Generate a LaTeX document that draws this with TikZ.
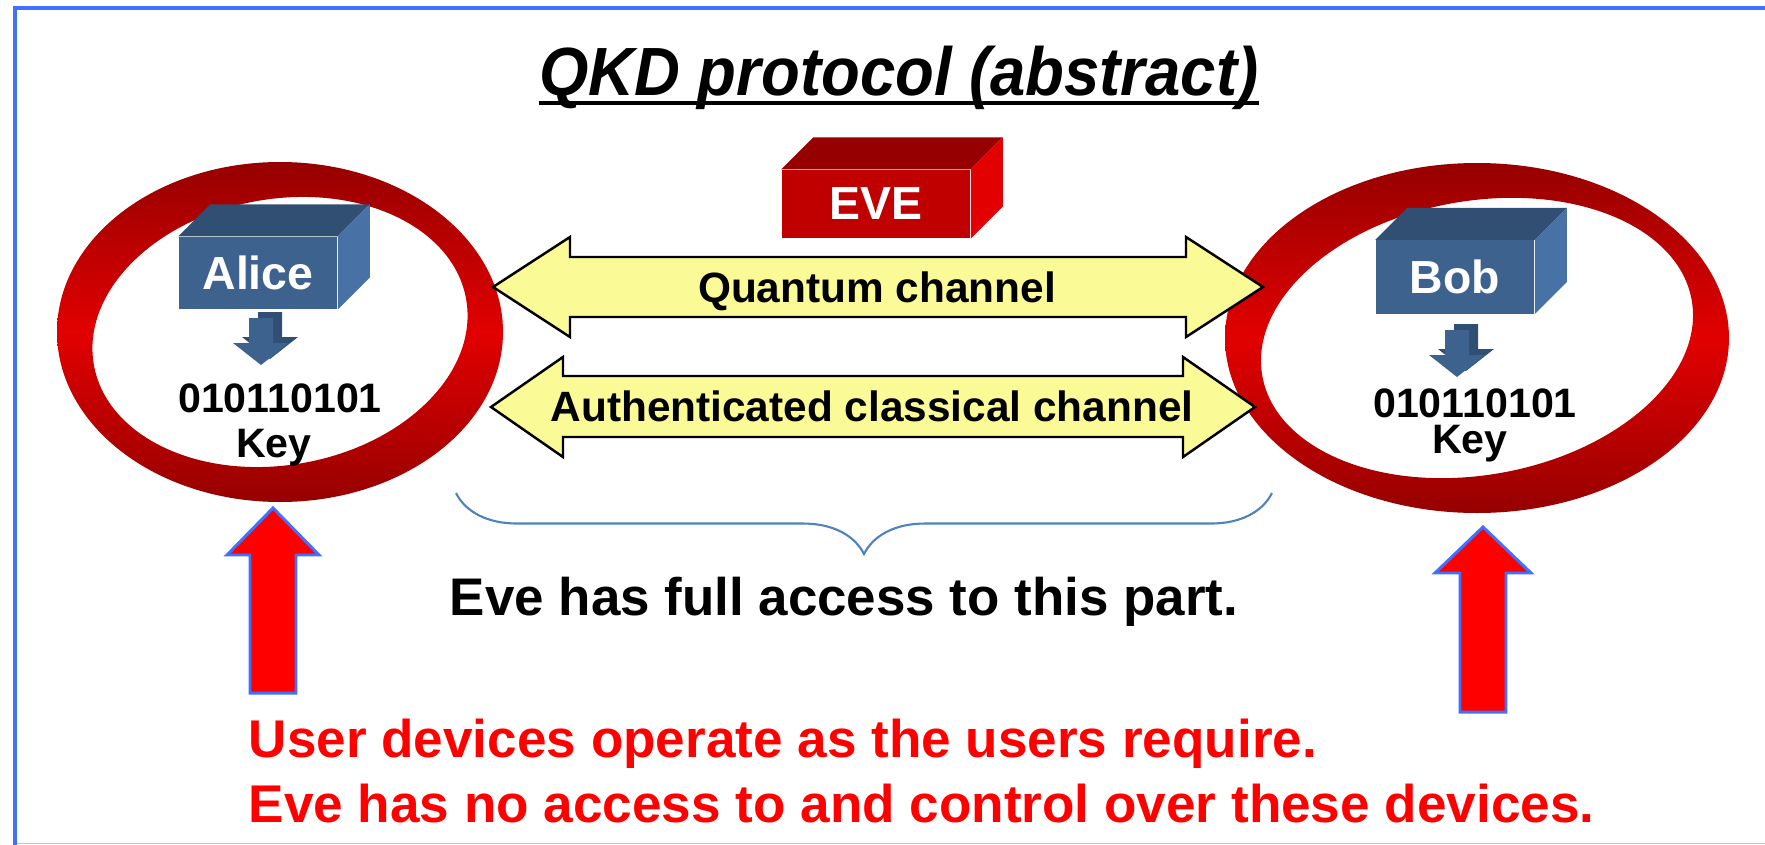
\documentclass[tikz,border=0pt]{standalone}
\usepackage{fontspec}
\setmainfont{Liberation Sans}
\newfontfamily\titlefont[FakeStretch=0.93]{Liberation Sans}
\usetikzlibrary{decorations.pathreplacing,positioning}

\definecolor{frameblue}{RGB}{64,112,255}
\definecolor{framelight}{RGB}{170,200,255}
\definecolor{boxfront}{RGB}{62,98,142}
\definecolor{boxtop}{RGB}{49,78,115}
\definecolor{boxside}{RGB}{72,114,166}
\definecolor{evefront}{RGB}{192,0,0}
\definecolor{evetop}{RGB}{150,0,0}
\definecolor{eveside}{RGB}{226,0,0}
\definecolor{ringdark}{RGB}{150,0,0}
\definecolor{ringlight}{RGB}{226,0,0}
\definecolor{chanfill}{RGB}{250,250,150}
\definecolor{bracecol}{RGB}{79,129,189}
\definecolor{warnred}{RGB}{255,0,0}

\tikzset{
  titletext/.style={anchor=base, inner sep=0pt, font=\titlefont\fontsize{19.4}{22}\selectfont\bfseries\itshape},
  devbox/.style={rectangle, inner sep=0pt, text=white, font=\fontsize{13.2}{15}\selectfont\bfseries},
  bits/.style={anchor=base, inner sep=0pt, font=\fontsize{11.7}{14}\selectfont\bfseries},
  chanarrow/.style={draw=black, fill=chanfill, line width=0.7pt},
  chanlabel/.style={anchor=base, inner sep=0pt, font=\fontsize{12.05}{14}\selectfont\bfseries},
  ring/.style={even odd rule, top color=ringdark, bottom color=ringdark, middle color=ringlight},
  evebrace/.style={draw=bracecol, line width=0.6pt, decorate, decoration={brace, mirror, amplitude=0.61cm}},
  note/.style={anchor=base, inner sep=0pt, font=\fontsize{15.05}{18}\selectfont\bfseries},
  warn/.style={anchor=base west, inner sep=0pt, text=warnred, font=\fontsize{15.1}{18}\selectfont\bfseries},
  userarrow/.style={fill=warnred, draw=frameblue, line width=0.85pt}
}

% top and side faces of a box node
\newcommand{\cuboid}[3]{%
  \fill[#2] (#1.north west) -- ++(32,-32) -- ([shift={(32,-32)}]#1.north east) -- (#1.north east) -- cycle;
  \fill[#3] (#1.north east) -- ++(32,-32) -- ([shift={(32,-32)}]#1.south east) -- (#1.south east) -- cycle;}

% small block arrow, #1 = top centre of the shaft
\newcommand{\keyarrow}[1]{%
  \begin{scope}[shift={#1}]
    \fill[boxtop] (-3,-6) -- (21,-6) -- (21,19) -- (37,19) -- (9,41) -- (-19,19) -- (-3,19) -- cycle;
    \fill[boxfront] (-12,0) -- (12,0) -- (12,25) -- (28,25) -- (0,47) -- (-28,25) -- (-12,25) -- cycle;
  \end{scope}}

\begin{document}
\begin{tikzpicture}[x=0.01cm, y=-0.01cm]
  \useasboundingbox (0,0) rectangle (1765,845);
  \draw[framelight, line width=0.5pt] (15,843.5) -- (1765,843.5);
  \draw[frameblue, line width=1.3pt] (15,845) -- (15,8) -- (1765,8);

  \node[titletext] (title) at (899,95) {QKD protocol (abstract)};
  \draw[line width=1.2pt] ([yshift=-0.08cm]title.base west) -- ([yshift=-0.08cm]title.base east);

  \shade[ring] (280,332) ellipse [x radius=223, y radius=170] (280,332) ellipse [x radius=189, y radius=133, rotate=10];
  \shade[ring] (1477,338) ellipse [x radius=252, y radius=175] (1477,338) ellipse [x radius=218, y radius=137, rotate=10];

  \node[devbox, fill=boxfront, minimum width=1.58cm, minimum height=0.72cm] (alice) at (258,273) {Alice};
  \cuboid{alice}{boxtop}{boxside}
  \node[devbox, fill=boxfront, minimum width=1.58cm, minimum height=0.73cm] (bob) at (1455,277) {Bob};
  \cuboid{bob}{boxtop}{boxside}
  \node[devbox, fill=evefront, minimum width=1.88cm, minimum height=0.68cm] (eve) at (876,204) {EVE};
  \cuboid{eve}{evetop}{eveside}

  \keyarrow{(261,318)}
  \keyarrow{(1457,330)}

  \node[bits] (alicebits) at (280,412) {010110101};
  \node[bits] (alicekey) at (274,457) {Key};
  \node[bits] (bobbits) at (1475,417) {010110101};
  \node[bits] (bobkey) at (1470,453) {Key};

  \filldraw[chanarrow] (493,287) -- (570,237) -- (570,257) -- (1186,257) -- (1186,237) -- (1263,287)
    -- (1186,337) -- (1186,317) -- (570,317) -- (570,337) -- cycle;
  \filldraw[chanarrow] (491,407) -- (563,357) -- (563,376) -- (1183,376) -- (1183,357) -- (1255,407)
    -- (1183,457) -- (1183,437) -- (563,437) -- (563,457) -- cycle;
  \node[chanlabel] (quantum) at (877,302) {Quantum channel};
  \node[chanlabel] (classical) at (872,421) {Authenticated classical channel};

  \coordinate (braceL) at (456,493);
  \coordinate (braceR) at (1272,493);
  \draw[evebrace] (braceL) -- (braceR);
  \node[note] (evenote) at (844,615) {Eve has full access to this part.};

  \filldraw[userarrow] (273,508) -- (319,555) -- (296,555) -- (296,693) -- (250,693) -- (250,555) -- (227,555) -- cycle;
  \filldraw[userarrow] (1483,527) -- (1531,573) -- (1506,573) -- (1506,712) -- (1460,712) -- (1460,573) -- (1435,573) -- cycle;

  \node[warn] (warnA) at (248,757) {User devices operate as the users require.};
  \node[warn] (warnB) at (248,822) {Eve has no access to and control over these devices.};
\end{tikzpicture}
\end{document}
